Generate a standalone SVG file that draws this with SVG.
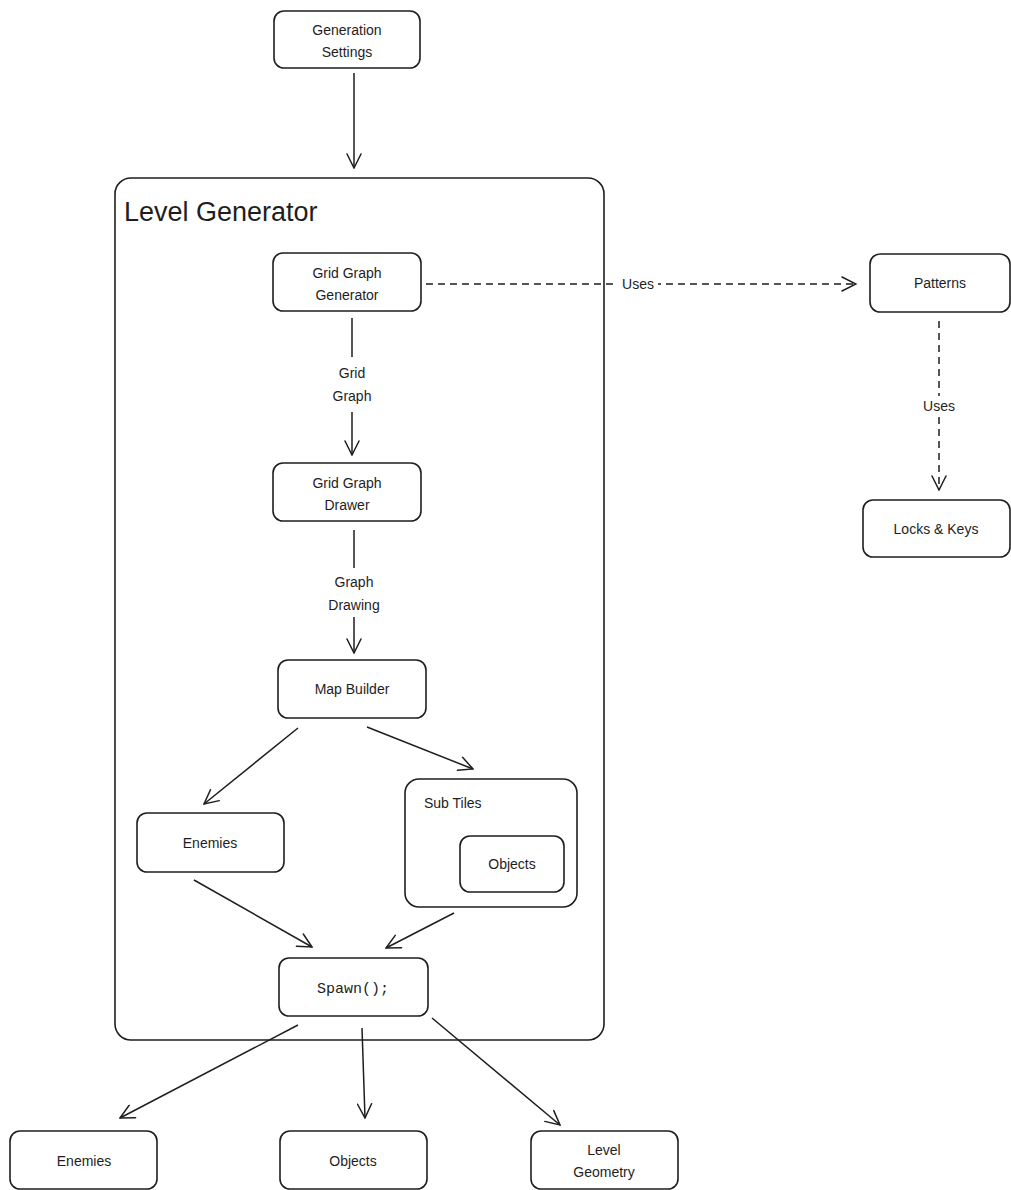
<svg xmlns="http://www.w3.org/2000/svg" width="1011" height="1190" viewBox="0 0 1011 1190">
  <style>
    .box { fill: #ffffff; stroke: #1e1e1e; stroke-width: 1.6; }
    .frame { fill: none; stroke: #1e1e1e; stroke-width: 1.6; }
    .lbl { font-family: "Liberation Sans", "DejaVu Sans", sans-serif; font-size: 14px; fill: #1e1e1e; text-anchor: middle; }
    .mono { font-family: "Liberation Mono", "DejaVu Sans Mono", monospace; font-size: 15px; fill: #1e1e1e; text-anchor: middle; }
    .title { font-family: "Liberation Sans", "DejaVu Sans", sans-serif; font-size: 27px; fill: #1e1e1e; }
    .edge { fill: none; stroke: #1e1e1e; stroke-width: 1.5; marker-end: url(#head); }
    .dash { stroke-dasharray: 7 5; }
    .plain { fill: none; stroke: #1e1e1e; stroke-width: 1.5; }
  </style>
  <defs>
    <marker id="head" viewBox="0 0 16 16" refX="15" refY="8" markerWidth="16" markerHeight="16" markerUnits="userSpaceOnUse" orient="auto">
      <path d="M1,1 L15,8 L1,15" fill="none" stroke="#1e1e1e" stroke-width="1.5" stroke-linecap="round"/>
    </marker>
  </defs>
  <rect width="1011" height="1190" fill="#ffffff"/>

  <!-- container -->
  <g id="level-generator">
    <rect class="frame" x="115" y="178" width="489" height="862" rx="16"/>
    <text class="title" x="124" y="221">Level Generator</text>
  </g>

  <!-- connectors -->
  <g id="connectors">
    <line class="edge" x1="354" y1="73" x2="354" y2="168"/>
    <line class="edge dash" x1="426" y1="284" x2="856" y2="284"/>
    <rect x="618" y="274" width="40" height="20" fill="#ffffff"/>
    <text class="lbl" x="638" y="289">Uses</text>
    <line class="edge dash" x1="939" y1="321" x2="939" y2="490"/>
    <rect x="915" y="396" width="48" height="20" fill="#ffffff"/>
    <text class="lbl" x="939" y="411">Uses</text>

    <line class="plain" x1="352" y1="318" x2="352" y2="357"/>
    <text class="lbl" x="352" y="378">Grid</text>
    <text class="lbl" x="352" y="401">Graph</text>
    <line class="edge" x1="352" y1="412" x2="352" y2="455"/>

    <line class="plain" x1="354" y1="530" x2="354" y2="568"/>
    <text class="lbl" x="354" y="587">Graph</text>
    <text class="lbl" x="354" y="610">Drawing</text>
    <line class="edge" x1="354" y1="617" x2="354" y2="653"/>

    <line class="edge" x1="298" y1="728" x2="204" y2="804"/>
    <line class="edge" x1="367" y1="727" x2="473" y2="769"/>
    <line class="edge" x1="194" y1="880" x2="312" y2="947"/>
    <line class="edge" x1="454" y1="913" x2="386" y2="948"/>

    <line class="edge" x1="298" y1="1025" x2="120" y2="1118"/>
    <line class="edge" x1="362" y1="1028" x2="365" y2="1118"/>
    <line class="edge" x1="432" y1="1018" x2="560" y2="1125"/>
  </g>

  <g id="generation-settings">
    <rect class="box" x="274" y="11" width="146" height="57" rx="10"/>
    <text class="lbl" x="347" y="35">Generation</text>
    <text class="lbl" x="347" y="57">Settings</text>
  </g>

  <g id="grid-graph-generator">
    <rect class="box" x="273" y="253" width="148" height="58" rx="10"/>
    <text class="lbl" x="347" y="278">Grid Graph</text>
    <text class="lbl" x="347" y="300">Generator</text>
  </g>

  <g id="patterns">
    <rect class="box" x="870" y="254" width="140" height="58" rx="10"/>
    <text class="lbl" x="940" y="288">Patterns</text>
  </g>

  <g id="locks-keys">
    <rect class="box" x="863" y="500" width="147" height="57" rx="10"/>
    <text class="lbl" x="936" y="534">Locks &amp; Keys</text>
  </g>

  <g id="grid-graph-drawer">
    <rect class="box" x="273" y="463" width="148" height="58" rx="10"/>
    <text class="lbl" x="347" y="488">Grid Graph</text>
    <text class="lbl" x="347" y="510">Drawer</text>
  </g>

  <g id="map-builder">
    <rect class="box" x="278" y="660" width="148" height="58" rx="10"/>
    <text class="lbl" x="352" y="694">Map Builder</text>
  </g>

  <g id="enemies-inner">
    <rect class="box" x="137" y="813" width="147" height="59" rx="10"/>
    <text class="lbl" x="210" y="848">Enemies</text>
  </g>

  <g id="sub-tiles">
    <rect class="box" x="405" y="779" width="172" height="128" rx="14"/>
    <text class="lbl" x="424" y="808" style="text-anchor:start">Sub Tiles</text>
    <g id="objects-inner">
      <rect class="box" x="460" y="836" width="104" height="56" rx="10"/>
      <text class="lbl" x="512" y="869">Objects</text>
    </g>
  </g>

  <g id="spawn">
    <rect class="box" x="279" y="958" width="149" height="58" rx="10"/>
    <text class="mono" x="353" y="993">Spawn();</text>
  </g>

  <g id="enemies-out">
    <rect class="box" x="10" y="1131" width="147" height="58" rx="10"/>
    <text class="lbl" x="84" y="1166">Enemies</text>
  </g>

  <g id="objects-out">
    <rect class="box" x="280" y="1131" width="147" height="58" rx="10"/>
    <text class="lbl" x="353" y="1166">Objects</text>
  </g>

  <g id="level-geometry">
    <rect class="box" x="531" y="1131" width="147" height="58" rx="10"/>
    <text class="lbl" x="604" y="1155">Level</text>
    <text class="lbl" x="604" y="1177">Geometry</text>
  </g>
</svg>
